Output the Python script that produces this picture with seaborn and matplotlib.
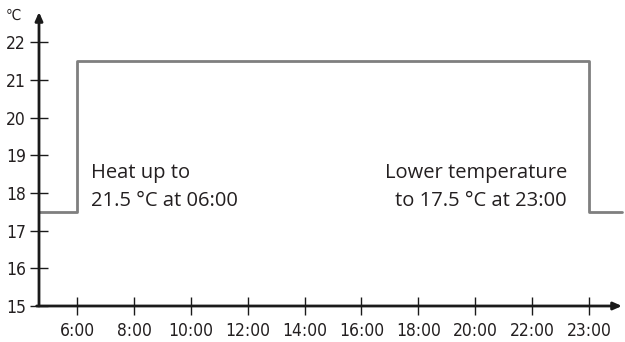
import seaborn as sns
import matplotlib.pyplot as plt

# time ticks (evenly spaced on the axis) and temperature ticks
time_labels = ['6:00', '8:00', '10:00', '12:00', '14:00', '16:00', '18:00', '20:00', '22:00', '23:00']
temp_ticks = [15, 16, 17, 18, 19, 20, 21, 22]

# schedule: low -> high at 6:00 -> low at 23:00
setpoints = [17.5, 21.5, 17.5]
switch_times = ['6:00', '23:00']

sns.set_style('white')
plt.rcParams['font.family'] = ['DejaVu Sans']
plt.rcParams['font.stretch'] = 'condensed'

fig = plt.figure(figsize=(6.25, 3.42), dpi=100)
ax = fig.add_axes([39 / 625, 1 - 306 / 342, (622 - 39) / 625, (306 - 12) / 342])

x0, x1 = -0.67, 9.58
ax.set_xlim(x0, x1)
ax.set_ylim(15, 22.8)

i_on = time_labels.index(switch_times[0])
i_off = time_labels.index(switch_times[1])
xs = [x0, i_on, i_off, x1]
ys = [setpoints[0], setpoints[1], setpoints[2], setpoints[2]]
sns.lineplot(x=xs, y=ys, drawstyle='steps-post', color='#7f7f7f', linewidth=2,
             ax=ax, sort=False, estimator=None, clip_on=False)

for s in ax.spines.values():
    s.set_visible(False)
ax.annotate('', xy=(0, 1.0), xytext=(0, 0), xycoords='axes fraction',
            arrowprops=dict(arrowstyle='-|>,head_length=0.5,head_width=0.22', color='#1a1a1a', lw=2,
                            shrinkA=0, shrinkB=0))
ax.annotate('', xy=(1.0, 0), xytext=(-0.004, 0), xycoords='axes fraction',
            arrowprops=dict(arrowstyle='-|>,head_length=0.5,head_width=0.22', color='#1a1a1a', lw=2,
                            shrinkA=0, shrinkB=0))

ax.set_xticks(range(len(time_labels)))
ax.set_xticklabels(time_labels)
ax.set_yticks(temp_ticks)
ax.set_yticklabels([str(t) for t in temp_ticks])
ax.tick_params(axis='both', direction='inout', length=13, width=1, color='#1a1a1a',
               labelsize=12.5, labelcolor='#231f20', bottom=True, left=True)
ax.tick_params(axis='x', pad=5)
ax.tick_params(axis='y', pad=3)

fig.text(6 / 625, 1 - 15 / 342, '℃', fontsize=11, color='#231f20', va='center', ha='left')

ax.text(i_on + 0.24, 18.16, 'Heat up to\n21.5 °C at 06:00', fontsize=14.5, color='#231f20',
        ha='left', va='center', family=['Open Sans', 'DejaVu Sans'], stretch='normal',
        linespacing=1.5)
ax.text(8.61, 18.16, 'Lower temperature\nto 17.5 °C at 23:00', fontsize=14.5, color='#231f20',
        ha='right', va='center', multialignment='right', family=['Open Sans', 'DejaVu Sans'],
        stretch='normal', linespacing=1.5)

fig.savefig('out.png', dpi=100)
